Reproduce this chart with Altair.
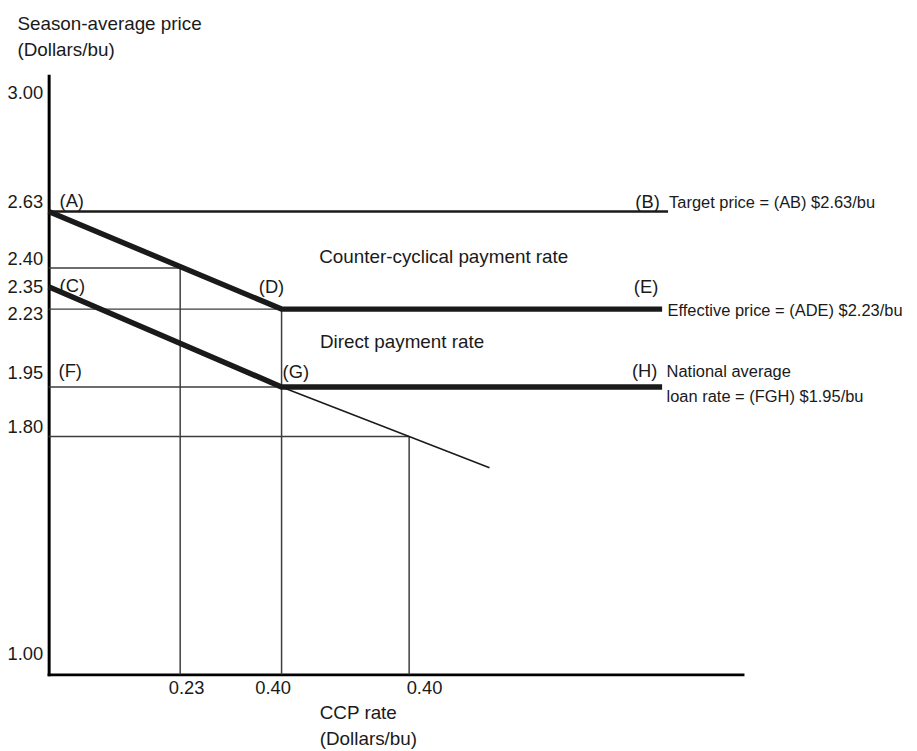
import json
import altair as alt
import pandas as pd

# ---------------- values ----------------
Y_TICK_VALUES = [3.00, 2.63, 2.40, 2.35, 2.23, 1.95, 1.80, 1.00]
X_TICK_VALUES = [0.23, 0.40, 0.83]          # positions along the horizontal axis
X_TICK_LABELS = ["0.23", "0.40", "0.40"]    # CCP-rate labels printed there

# thick kinked line A-D-E (effective price)
ADE_Q = [0.00, 0.40, 1.68]
ADE_P = [2.63, 2.23, 2.23]
# thick kinked line C-G-H (loan rate)
CGH_Q = [0.00, 0.40, 1.68]
CGH_P = [2.35, 1.95, 1.95]
# target price line A-B
AB_Q = [0.00, 1.70]
AB_P = [2.63, 2.63]
# thin continuation of the price line beyond G
EXT_Q = [0.40, 0.83, 1.10]
EXT_P = [1.95, 1.80, 1.69]

# thin guide lines
H_GUIDE_P = [2.40, 2.23, 1.95, 1.80]
H_GUIDE_Q = [0.23, 0.40, 0.40, 0.83]
V_GUIDE_Q = [0.23, 0.40, 0.83]
V_GUIDE_P = [2.40, 2.23, 1.80]

# axis extents
Y_MIN, Y_MAX = 0.96, 3.09
X_MIN, X_MAX = 0.00, 1.95

POINT_LABELS = ["(A)", "(B)", "(C)", "(D)", "(E)", "(F)", "(G)", "(H)"]
POINT_Q = [0.00, 1.70, 0.00, 0.40, 1.68, 0.00, 0.40, 1.68]
POINT_P = [2.63, 2.63, 2.35, 2.23, 2.23, 1.95, 1.95, 1.95]

NOTE_TEXT = ["Counter-cyclical payment rate", "Direct payment rate",
             "Target price = (AB) $2.63/bu", "Effective price = (ADE) $2.23/bu",
             "National average", "loan rate = (FGH) $1.95/bu"]
NOTE_Q = [0.40, 0.40, 1.70, 1.68, 1.68, 1.68]
NOTE_P = [2.23, 1.95, 2.63, 2.23, 1.95, 1.95]

# ---------------- layout / style ----------------
W, H = 700, 604
FONT = "Liberation Sans"
FS = 19
FS_TICK = 18.5
FS_SIDE = 16.6
INK = "#1a1a1a"

# schematic (piecewise) scales
y_domain = [Y_MIN] + sorted(Y_TICK_VALUES) + [Y_MAX]
y_range = [604, 593, 364, 314, 235.5, 213, 194, 137, 27, 0]
x_domain = [X_MIN] + X_TICK_VALUES + [X_MAX]
x_range = [0, 132.7, 235, 363.7, 700]

x_scale = alt.Scale(domain=x_domain, range=x_range, nice=False, zero=False)
y_scale = alt.Scale(domain=y_domain, range=y_range, nice=False, zero=False)

x_label_expr = "{}[indexof({}, datum.value)]".format(
    json.dumps(X_TICK_LABELS), json.dumps(X_TICK_VALUES))

x_axis = alt.Axis(
    values=X_TICK_VALUES, labelExpr=x_label_expr,
    title=["CCP rate", "(Dollars/bu)"], titleAngle=0, titleAlign="left",
    titleBaseline="alphabetic", titleX=273, titleY=45, titleLineHeight=26,
    labelPadding=4,
    labelOffset={"condition": [
        {"test": "datum.value === 0.23", "value": 6},
        {"test": "datum.value === 0.4", "value": -9},
        {"test": "datum.value === 0.83", "value": 15}], "value": 0},
)
y_axis = alt.Axis(
    values=Y_TICK_VALUES, format=".2f",
    title=["Season-average price", "(Dollars/bu)"], titleAngle=0, titleAlign="left",
    titleBaseline="alphabetic", titleX=-32, titleY=-47, titleLineHeight=27,
    labelPadding=6,
    labelOffset={"condition": [
        {"test": "datum.value === 2.35", "value": 0},
        {"test": "datum.value === 2.23", "value": 4},
        {"test": "datum.value === 1.95", "value": -15}], "value": -10},
)


def X(field):
    return alt.X(field, type="quantitative", scale=x_scale, axis=x_axis)


def Y(field):
    return alt.Y(field, type="quantitative", scale=y_scale, axis=y_axis)


paths = pd.DataFrame(
    [{"q": q, "p": p, "path": "ADE"} for q, p in zip(ADE_Q, ADE_P)]
    + [{"q": q, "p": p, "path": "CGH"} for q, p in zip(CGH_Q, CGH_P)]
)
target = pd.DataFrame({"q": AB_Q, "p": AB_P})
ext = pd.DataFrame({"q": EXT_Q, "p": EXT_P})
hguides = pd.DataFrame({"q0": [X_MIN] * len(H_GUIDE_P), "q1": H_GUIDE_Q, "p": H_GUIDE_P})
vguides = pd.DataFrame({"q": V_GUIDE_Q, "p0": V_GUIDE_P, "p1": [Y_MIN] * len(V_GUIDE_Q)})

layers = []

layers.append(alt.Chart(hguides).mark_rule(strokeWidth=1.5, color="#3d3d3d").encode(
    x=X("q0"), x2="q1", y=Y("p")))
layers.append(alt.Chart(vguides).mark_rule(strokeWidth=1.5, color="#3d3d3d").encode(
    x=X("q"), y=Y("p0"), y2="p1"))
layers.append(alt.Chart(ext).mark_line(strokeWidth=1.5, color=INK).encode(
    x=X("q"), y=Y("p")))
layers.append(alt.Chart(target).mark_line(strokeWidth=2.7, color=INK, strokeCap="butt").encode(
    x=X("q"), y=Y("p")))
layers.append(alt.Chart(paths).mark_line(strokeWidth=5.5, color=INK, strokeCap="butt",
                                          strokeJoin="miter").encode(
    x=X("q"), y=Y("p"), detail="path:N"))

# pixel nudges of each label from its anchor point (style only)
POINT_NUDGE = {"(A)": (11, -5), "(B)": (-33, -4), "(C)": (11, 5), "(D)": (-23, -16.5),
               "(E)": (-28.5, -16.5), "(F)": (10, -10), "(G)": (1, -9), "(H)": (-30.5, -10)}
NOTE_NUDGE = {
    "Counter-cyclical payment rate": (38, -46.5, FS),
    "Direct payment rate": (38.7, -39, FS),
    "Target price = (AB) $2.63/bu": (1, -4, FS_SIDE),
    "Effective price = (ADE) $2.23/bu": (5.5, 6.5, FS_SIDE),
    "National average": (4.5, -10, FS_SIDE),
    "loan rate = (FGH) $1.95/bu": (4.5, 15, FS_SIDE),
}


def text_layer(txt, q, p, dx, dy, size):
    df = pd.DataFrame({"q": [q], "p": [p], "t": [txt]})
    return alt.Chart(df).mark_text(
        align="left", baseline="alphabetic", dx=dx, dy=dy,
        font=FONT, fontSize=size, color=INK,
    ).encode(x=X("q"), y=Y("p"), text="t:N")


for t, q, p in zip(POINT_LABELS, POINT_Q, POINT_P):
    dx, dy = POINT_NUDGE[t]
    layers.append(text_layer(t, q, p, dx, dy, FS_TICK))

for t, q, p in zip(NOTE_TEXT, NOTE_Q, NOTE_P):
    dx, dy, s = NOTE_NUDGE[t]
    layers.append(text_layer(t, q, p, dx, dy, s))

chart = alt.layer(*layers).properties(
    width=W, height=H,
    autosize=alt.AutoSizeParams(type="none"),
    padding={"left": 41, "top": 65, "right": 168, "bottom": 74},
    background="white",
).configure_view(stroke=None).configure_axis(
    grid=False, ticks=False, tickSize=0,
    domainColor="black", domainWidth=3, domainCap="square",
    labelFont=FONT, labelFontSize=FS_TICK, labelColor=INK,
    titleFont=FONT, titleFontSize=FS, titleFontWeight="normal", titleColor=INK,
)

chart.save("out.html", embed_options={"renderer": "svg", "actions": False})
